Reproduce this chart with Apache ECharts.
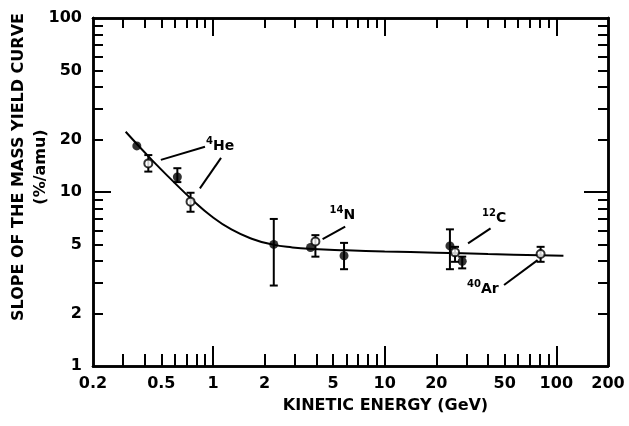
<!DOCTYPE html>
<html>
<head>
<meta charset="utf-8">
<script src="https://cdn.jsdelivr.net/npm/echarts@6/dist/echarts.min.js"></script>
<style>
  html, body { margin: 0; padding: 0; background: #fff; }
  #chart { width: 629px; height: 426px; }
</style>
</head>
<body>
<div id="chart"></div>
<script>
// axis ticks / labels
const xTickLabels = [0.2, 0.5, 1, 2, 5, 10, 20, 50, 100, 200];
const xMinorTicks = [0.3, 0.4, 0.5, 0.6, 0.7, 0.8, 0.9, 2, 3, 4, 5, 6, 7, 8, 9, 20, 30, 40, 50, 60, 70, 80, 90];
const xMajorTicks = [1, 10, 100];
const yTickLabels = [1, 2, 5, 10, 20, 50, 100];
const yMinorTicks = [2, 3, 4, 5, 6, 7, 8, 9, 20, 30, 40, 50, 60, 70, 80, 90];
const yMajorTicks = [10];

// hand drawn fit curve
const curveX = [0.31, 0.44, 0.6, 0.75, 0.98, 1.28, 1.68, 2.2, 2.9, 3.8, 6, 10, 20, 40, 80, 110];
const curveY = [22.2, 15.3, 11.25, 9.1, 7.25, 6.09, 5.39, 5.0, 4.8, 4.7, 4.62, 4.55, 4.48, 4.4, 4.33, 4.3];

// filled circles
const filledX = [0.36, 0.62, 2.26, 3.7, 5.8, 24, 28.3];
const filledY = [18.4, 12.2, 5.0, 4.8, 4.3, 4.9, 4.0];
const filledLow = [18.4, 11.4, 2.9, 4.8, 3.6, 3.6, 3.64];
const filledHigh = [18.4, 13.7, 7.0, 4.8, 5.1, 6.1, 4.25];

// open circles
const openX = [0.42, 0.74, 3.95, 25.7, 81];
const openY = [14.6, 8.8, 5.2, 4.5, 4.4];
const openLow = [13.1, 7.7, 4.25, 3.97, 3.97];
const openHigh = [16.3, 9.9, 5.65, 4.84, 4.84];

// annotations (data coordinates)
const leaderFromX = [0.497, 0.839, 4.35, 30.6, 49.6];
const leaderFromY = [15.3, 10.5, 5.36, 5.07, 2.92];
const leaderToX = [0.898, 1.114, 5.89, 41.4, 77.8];
const leaderToY = [18.2, 15.7, 6.32, 6.18, 4.06];
const labelMass = ['4', '14', '12', '40'];
const labelElem = ['He', 'N', 'C', 'Ar'];
const labelX = [0.91, 4.77, 36.9, 30.2];
const labelY = [18.4, 7.38, 7.09, 2.77];

const FONT = 'DejaVu Sans';
const fmt = v => String(+Number(v).toPrecision(4));

function zipRows() {
  const cols = Array.prototype.slice.call(arguments);
  return cols[0].map((_, i) => cols.map(c => c[i]));
}

function renderErrorBar(params, api) {
  const x = api.value(0);
  const lo = api.value(1);
  const hi = api.value(2);
  if (lo === hi) return null;
  const p1 = api.coord([x, hi]);
  const p2 = api.coord([x, lo]);
  const w = 4;
  const st = { stroke: '#000', lineWidth: 2 };
  return {
    type: 'group',
    children: [
      { type: 'line', shape: { x1: p1[0], y1: p1[1], x2: p2[0], y2: p2[1] }, style: st },
      { type: 'line', shape: { x1: p1[0] - w, y1: p1[1], x2: p1[0] + w, y2: p1[1] }, style: st },
      { type: 'line', shape: { x1: p2[0] - w, y1: p2[1], x2: p2[0] + w, y2: p2[1] }, style: st }
    ]
  };
}

function renderLeader(params, api) {
  const a = api.coord([api.value(0), api.value(1)]);
  const b = api.coord([api.value(2), api.value(3)]);
  return {
    type: 'line',
    shape: { x1: a[0], y1: a[1], x2: b[0], y2: b[1] },
    style: { stroke: '#000', lineWidth: 2 }
  };
}

function renderLabel(params, api) {
  const p = api.coord([api.value(0), api.value(1)]);
  const i = params.dataIndex;
  return {
    type: 'text',
    x: p[0],
    y: p[1],
    style: {
      text: '{s|' + labelMass[i] + '}{b|' + labelElem[i] + '}',
      align: 'left',
      verticalAlign: 'middle',
      fill: '#000',
      rich: {
        s: { fontFamily: FONT, fontWeight: 'bold', fontSize: 10, padding: [0, 0, 9, 0] },
        b: { fontFamily: FONT, fontWeight: 'bold', fontSize: 14 }
      }
    }
  };
}

const chart = echarts.init(document.getElementById('chart'));

const axisLine = { show: true, lineStyle: { color: '#000', width: 2.5 } };
const tickLine = { color: '#000', width: 2 };
const labelStyle = { color: '#000', fontFamily: FONT, fontWeight: 'bold', fontSize: 16 };

function xAx(pos, ticks, len, extra) {
  return Object.assign({
    type: 'log', min: 0.2, max: 200, position: pos,
    axisLine: axisLine,
    axisTick: { show: true, inside: true, length: len, customValues: ticks, lineStyle: tickLine },
    axisLabel: { show: false },
    splitLine: { show: false }
  }, extra || {});
}
function yAx(pos, ticks, len, extra) {
  return Object.assign({
    type: 'log', min: 1, max: 100, position: pos,
    axisLine: axisLine,
    axisTick: { show: true, inside: true, length: len, customValues: ticks, lineStyle: tickLine },
    axisLabel: { show: false },
    splitLine: { show: false }
  }, extra || {});
}

chart.setOption({
  animation: false,
  backgroundColor: '#fff',
  grid: { left: 93, right: 21, top: 18, bottom: 60, containLabel: false, outerBoundsMode: 'none' },
  xAxis: [
    xAx('bottom', xMinorTicks, 12, {
      axisLabel: Object.assign({ show: true, customValues: xTickLabels, formatter: fmt, margin: 10 }, labelStyle),
      name: 'KINETIC ENERGY (GeV)',
      nameLocation: 'middle',
      nameGap: 32,
      nameMoveOverlap: false,
      nameTextStyle: { color: '#000', fontFamily: FONT, fontWeight: 'bold', fontSize: 16, padding: [0, 0, 0, 70] }
    }),
    xAx('bottom', xMajorTicks, 20),
    xAx('top', xMinorTicks, 10),
    xAx('top', xMajorTicks, 18)
  ],
  yAxis: [
    yAx('left', yMinorTicks, 10, {
      axisLabel: Object.assign({ show: true, customValues: yTickLabels, formatter: fmt, margin: 11 }, labelStyle),
      name: 'SLOPE OF THE MASS YIELD CURVE\n(%/amu)',
      nameLocation: 'middle',
      nameRotate: 90,
      nameGap: 41,
      nameMoveOverlap: false,
      nameTextStyle: { color: '#000', fontFamily: FONT, fontWeight: 'bold', fontSize: 16, lineHeight: 22, padding: [0, 0, 0, 50] }
    }),
    yAx('left', yMajorTicks, 18),
    yAx('right', yMinorTicks, 10),
    yAx('right', yMajorTicks, 24)
  ],
  series: [
    {
      type: 'line',
      data: zipRows(curveX, curveY),
      smooth: true,
      showSymbol: false,
      lineStyle: { color: '#000', width: 2 },
      z: 2
    },
    {
      type: 'custom',
      renderItem: renderErrorBar,
      data: zipRows(filledX, filledLow, filledHigh).concat(zipRows(openX, openLow, openHigh)),
      encode: { x: 0, y: [1, 2] },
      z: 3
    },
    {
      type: 'scatter',
      data: zipRows(filledX, filledY),
      symbol: 'circle',
      symbolSize: 9,
      itemStyle: { color: '#000' },
      z: 4
    },
    {
      type: 'scatter',
      data: zipRows(openX, openY),
      symbol: 'circle',
      symbolSize: 8,
      itemStyle: { color: '#fff', borderColor: '#000', borderWidth: 2 },
      z: 5
    },
    {
      type: 'custom',
      renderItem: renderLeader,
      data: zipRows(leaderFromX, leaderFromY, leaderToX, leaderToY),
      encode: { x: [0, 2], y: [1, 3] },
      z: 3
    },
    {
      type: 'custom',
      renderItem: renderLabel,
      data: zipRows(labelX, labelY),
      encode: { x: 0, y: 1 },
      z: 6
    }
  ]
});
</script>
</body>
</html>
